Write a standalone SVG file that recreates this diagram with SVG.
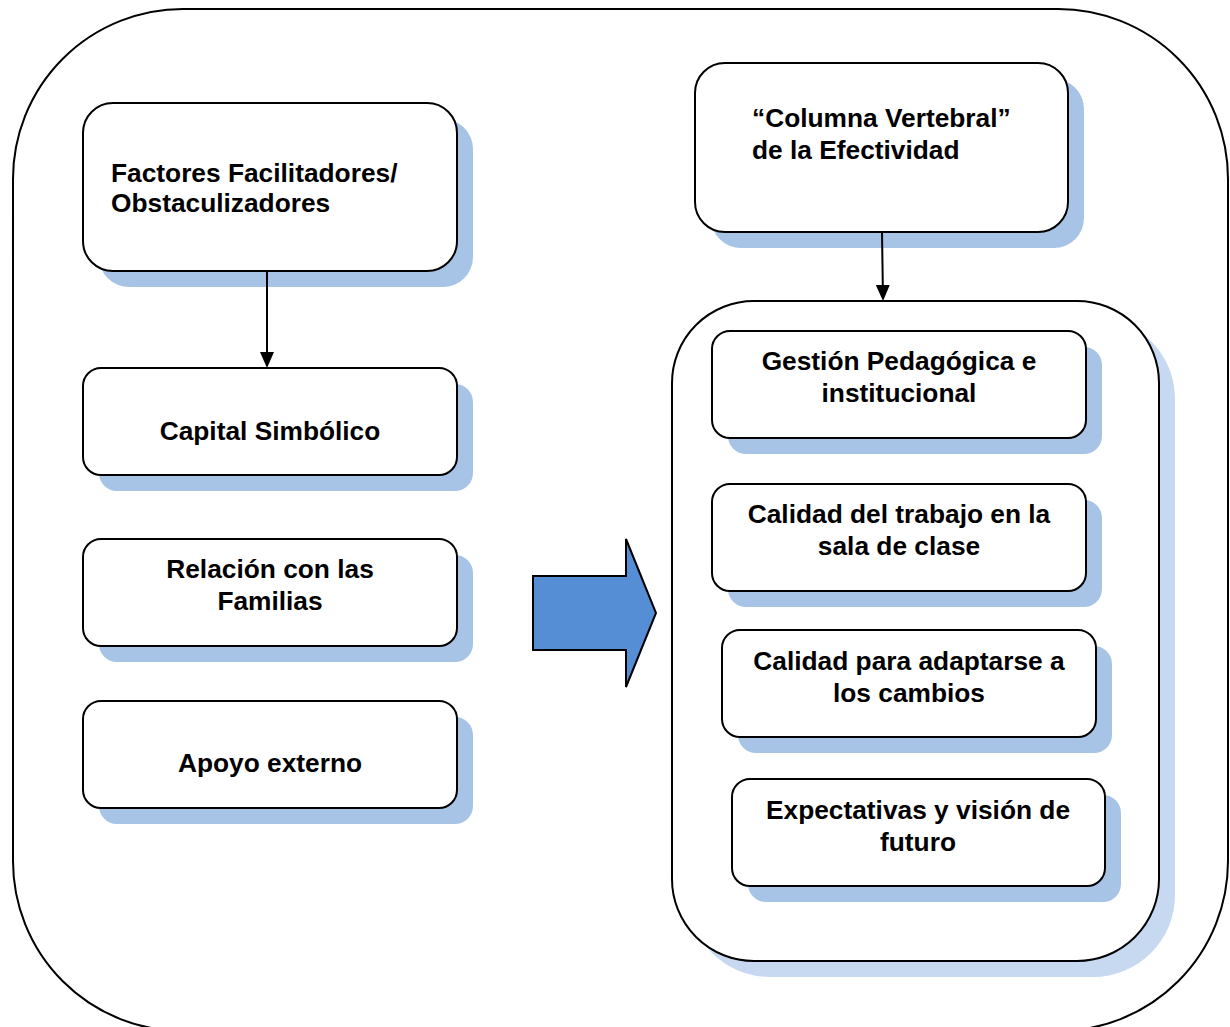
<svg xmlns="http://www.w3.org/2000/svg" width="1230" height="1027" viewBox="0 0 1230 1027">
<style>
.box{fill:#fff;stroke:#000;stroke-width:2}
.sh{fill:#a7c4e7}
.sh2{fill:#c6d9f1}
.t{font-family:"Liberation Sans",Arial,sans-serif;font-weight:bold;font-size:26.3px;fill:#000}
.c{text-anchor:middle}
.ln{stroke:#000;stroke-width:2;fill:none}
</style>
<defs>
<marker id="ah" markerWidth="8" markerHeight="8" refX="7" refY="4" orient="auto" markerUnits="strokeWidth">
<path d="M0,0.5 L8,4 L0,7.5 Z" fill="#000"/>
</marker>
</defs>
<rect width="1230" height="1027" fill="#fff"/>
<g id="frame">
<rect x="13" y="9" width="1215" height="1022" rx="170" ry="170" class="box"/>
</g>
<g id="factores">
<rect x="99" y="119" width="374" height="168" rx="30" class="sh"/>
<rect x="83" y="103" width="374" height="168" rx="30" class="box"/>
<text class="t" x="111" y="182">Factores Facilitadores/</text>
<text class="t" x="111" y="212">Obstaculizadores</text>
</g>
<g id="capital">
<rect x="99" y="384" width="374" height="107" rx="18" class="sh"/>
<rect x="83" y="368" width="374" height="107" rx="18" class="box"/>
<text class="t c" x="270" y="440">Capital Simbólico</text>
</g>
<g id="relacion">
<rect x="99" y="555" width="374" height="107" rx="18" class="sh"/>
<rect x="83" y="539" width="374" height="107" rx="18" class="box"/>
<text class="t c" x="270" y="578">Relación con las</text>
<text class="t c" x="270" y="610">Familias</text>
</g>
<g id="apoyo">
<rect x="99" y="717" width="374" height="107" rx="18" class="sh"/>
<rect x="83" y="701" width="374" height="107" rx="18" class="box"/>
<text class="t c" x="270" y="772">Apoyo externo</text>
</g>
<g id="bigarrow">
<path d="M533,576 L626,576 L626,539 L656,613 L626,687 L626,650 L533,650 Z" fill="#558ed5" stroke="#000" stroke-width="2" stroke-linejoin="miter"/>
</g>
<g id="columna">
<rect x="711" y="79" width="373" height="169" rx="30" class="sh"/>
<rect x="695" y="63" width="373" height="169" rx="30" class="box"/>
<text class="t" x="752" y="127">“Columna Vertebral”</text>
<text class="t" x="752" y="159">de la Efectividad</text>
</g>
<g id="contenedor">
<rect x="688" y="317" width="487" height="660" rx="82" class="sh2"/>
<rect x="672" y="301" width="487" height="660" rx="82" class="box"/>
</g>
<g id="gestion">
<rect x="728" y="347" width="374" height="107" rx="18" class="sh"/>
<rect x="712" y="331" width="374" height="107" rx="18" class="box"/>
<text class="t c" x="899" y="370">Gestión Pedagógica e</text>
<text class="t c" x="899" y="402">institucional</text>
</g>
<g id="calidad-trabajo">
<rect x="728" y="500" width="374" height="107" rx="18" class="sh"/>
<rect x="712" y="484" width="374" height="107" rx="18" class="box"/>
<text class="t c" x="899" y="523">Calidad del trabajo en la</text>
<text class="t c" x="899" y="555">sala de clase</text>
</g>
<g id="calidad-adaptarse">
<rect x="738" y="646" width="374" height="107" rx="18" class="sh"/>
<rect x="722" y="630" width="374" height="107" rx="18" class="box"/>
<text class="t c" x="909" y="670">Calidad para adaptarse a</text>
<text class="t c" x="909" y="702">los cambios</text>
</g>
<g id="expectativas">
<rect x="748" y="795" width="373" height="107" rx="18" class="sh"/>
<rect x="732" y="779" width="373" height="107" rx="18" class="box"/>
<text class="t c" x="918" y="819">Expectativas y visión de</text>
<text class="t c" x="918" y="851">futuro</text>
</g>
<g id="connectors">
<line x1="267" y1="271" x2="267" y2="366" class="ln" marker-end="url(#ah)"/>
<line x1="882" y1="232" x2="883" y2="299" class="ln" marker-end="url(#ah)"/>
</g>
</svg>
